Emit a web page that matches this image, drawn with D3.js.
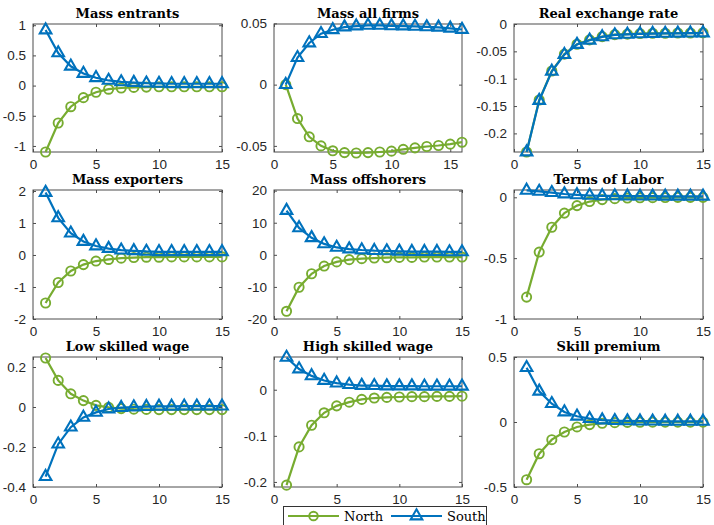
<!DOCTYPE html>
<html><head><meta charset="utf-8">
<script src="https://cdn.jsdelivr.net/npm/d3@7"></script>
<style>body{margin:0;background:#fff}svg{display:block}</style>
</head><body>
<svg id="c" width="714" height="525"></svg>
<script>
// ---- data ----
const titles = ["Mass entrants","Mass all firms","Real exchange rate","Mass exporters","Mass offshorers","Terms of Labor","Low skilled wage","High skilled wage","Skill premium"];
const seriesNames = ["North","South"];
const xTicks = [0,5,10,15];
const xMax = [15,16,15,15,15,15,15,15,15];

const entrantsNorth = [-1.1,-0.62,-0.35,-0.2,-0.11,-0.06,-0.04,-0.03,-0.025,-0.02,-0.02,-0.02,-0.02,-0.02,-0.02];
const entrantsSouth = [0.92,0.54,0.32,0.2,0.13,0.085,0.06,0.05,0.04,0.035,0.03,0.03,0.03,0.03,0.03];
const allFirmsNorth = [0,-0.0277,-0.0426,-0.050,-0.054,-0.0555,-0.0558,-0.0555,-0.055,-0.0543,-0.0528,-0.0516,-0.0505,-0.0497,-0.0486,-0.047];
const allFirmsSouth = [0,0.022,0.034,0.0416,0.0448,0.047,0.0478,0.0484,0.0484,0.048,0.0478,0.0475,0.0471,0.0468,0.046,0.045];
const rerNorth = [-0.234,-0.139,-0.086,-0.055,-0.037,-0.029,-0.023,-0.0195,-0.0185,-0.0175,-0.017,-0.017,-0.0165,-0.0165,-0.016];
const rerSouth = [-0.234,-0.14,-0.0866,-0.056,-0.0376,-0.0297,-0.0235,-0.02,-0.019,-0.018,-0.0175,-0.0172,-0.017,-0.0167,-0.0165];
const exportersNorth = [-1.5,-0.86,-0.5,-0.3,-0.19,-0.14,-0.1,-0.08,-0.07,-0.07,-0.06,-0.06,-0.06,-0.06,-0.06];
const exportersSouth = [1.95,1.16,0.68,0.42,0.28,0.2,0.15,0.13,0.11,0.1,0.1,0.1,0.1,0.1,0.1];
const offshorersNorth = [-17.6,-10.1,-5.9,-3.5,-2.2,-1.5,-1.2,-1.0,-0.9,-0.8,-0.8,-0.7,-0.7,-0.7,-0.7];
const offshorersSouth = [13.8,8.4,5.3,3.4,2.3,1.8,1.5,1.3,1.2,1.1,1.0,1.0,1.0,0.9,0.9];
const laborNorth = [-0.82,-0.45,-0.246,-0.13,-0.068,-0.035,-0.019,-0.011,-0.006,-0.004,-0.003,-0.002,-0.001,-0.001,-0.001];
const laborSouth = [0.057,0.048,0.038,0.027,0.02,0.015,0.012,0.011,0.01,0.009,0.009,0.008,0.008,0.008,0.008];
const lowWageNorth = [0.245,0.133,0.066,0.032,0.008,-0.002,-0.008,-0.011,-0.012,-0.013,-0.013,-0.013,-0.013,-0.013,-0.013];
const lowWageSouth = [-0.348,-0.186,-0.101,-0.052,-0.027,-0.01,-0.003,0,0.002,0.003,0.003,0.004,0.004,0.004,0.004];
const highWageNorth = [-0.207,-0.124,-0.077,-0.05,-0.035,-0.027,-0.021,-0.018,-0.0166,-0.0158,-0.015,-0.015,-0.0145,-0.0145,-0.014];
const highWageSouth = [0.07,0.045,0.03,0.02,0.0144,0.011,0.009,0.0087,0.008,0.008,0.008,0.0075,0.0075,0.0075,0.0075];
const premiumNorth = [-0.444,-0.244,-0.136,-0.077,-0.038,-0.02,-0.01,-0.005,-0.003,-0.002,-0.001,-0.001,-0.001,-0.001,-0.001];
const premiumSouth = [0.418,0.236,0.141,0.077,0.044,0.026,0.015,0.01,0.008,0.007,0.006,0.005,0.005,0.005,0.005];

const northData = [entrantsNorth,allFirmsNorth,rerNorth,exportersNorth,offshorersNorth,laborNorth,lowWageNorth,highWageNorth,premiumNorth];
const southData = [entrantsSouth,allFirmsSouth,rerSouth,exportersSouth,offshorersSouth,laborSouth,lowWageSouth,highWageSouth,premiumSouth];

const yTicks = [
  [-1,-0.5,0,0.5,1],[-0.05,0,0.05],[-0.2,-0.15,-0.1,-0.05,0],
  [-2,-1,0,1,2],[-20,-10,0,10,20],[-1,-0.5,0],
  [-0.4,-0.2,0,0.2],[-0.2,-0.1,0],[-0.5,0,0.5]
];
const yTickLabels = [
  ["-1","-0.5","0","0.5","1"],["-0.05","0","0.05"],["-0.2","-0.15","-0.1","-0.05","0"],
  ["-2","-1","0","1","2"],["-20","-10","0","10","20"],["-1","-0.5","0"],
  ["-0.4","-0.2","0","0.2"],["-0.2","-0.1","0"],["-0.5","0","0.5"]
];
const yDomains = [
  [-1.1,1.02],[-0.055,0.0495],[-0.234,0.0],
  [-2,2.03],[-20,20.2],[-1,0.06],
  [-0.4,0.25],[-0.211,0.071],[-0.5,0.5]
];

// ---- layout ----
const cols = [{l:33,r:222},{l:274,r:462},{l:514,r:703}];
const rows = [{t:24,b:152},{t:190,b:319},{t:357,b:487}];
const cNorth = "#77AC30", cSouth = "#0072BD";
const axisCol = "#4d4d4d", textCol = "#262626";

const svg = d3.select("#c");

titles.forEach((title,i)=>{
  const col = cols[i%3], row = rows[Math.floor(i/3)];
  const x = d3.scaleLinear().domain([0,xMax[i]]).range([col.l,col.r]);
  const y = d3.scaleLinear().domain(yDomains[i]).range([row.b,row.t]);
  const g = svg.append("g");

  g.append("rect").attr("x",col.l).attr("y",row.t).attr("width",col.r-col.l).attr("height",row.b-row.t)
    .attr("fill","none").attr("stroke",axisCol).attr("stroke-width",1);

  const yAx = d3.axisLeft(y).tickValues(yTicks[i]).tickSizeInner(-3).tickSizeOuter(0)
    .tickFormat((d,k)=>yTickLabels[i][k]).tickPadding(7);
  const ya = g.append("g").attr("transform",`translate(${col.l},0)`).call(yAx);
  const yAxR = d3.axisRight(y).tickValues(yTicks[i]).tickSizeInner(-3).tickSizeOuter(0).tickFormat("");
  const yr = g.append("g").attr("transform",`translate(${col.r},0)`).call(yAxR);
  const xAx = d3.axisBottom(x).tickValues(xTicks).tickSizeInner(-3).tickSizeOuter(0).tickPadding(7);
  const xa = g.append("g").attr("transform",`translate(0,${row.b})`).call(xAx);
  const xAxT = d3.axisTop(x).tickValues(xTicks).tickSizeInner(-3).tickSizeOuter(0).tickFormat("");
  const xt = g.append("g").attr("transform",`translate(0,${row.t})`).call(xAxT);
  [ya,yr,xa,xt].forEach(a=>{
    a.select(".domain").remove();
    a.selectAll("line").attr("stroke",axisCol);
    a.selectAll("text").attr("fill",textCol).style("font-family","'Liberation Sans',Arial,sans-serif").style("font-size","13.5px");
  });

  g.append("text").attr("x",(col.l+col.r)/2).attr("y",row.t-6).attr("text-anchor","middle")
    .style("font-family","'DejaVu Serif',serif").style("font-weight","bold").style("font-size","13px")
    .attr("fill","#000").text(title);

  const line = d3.line().x((d,k)=>x(k+1)).y(d=>y(d));
  g.append("path").datum(northData[i]).attr("d",line).attr("fill","none").attr("stroke",cNorth).attr("stroke-width",2.2);
  g.selectAll(".cn").data(northData[i]).enter().append("circle")
    .attr("cx",(d,k)=>x(k+1)).attr("cy",d=>y(d)).attr("r",4.6)
    .attr("fill","none").attr("stroke",cNorth).attr("stroke-width",1.9);
  g.append("path").datum(southData[i]).attr("d",line).attr("fill","none").attr("stroke",cSouth).attr("stroke-width",2.2);
  const tri = d3.symbol().type(d3.symbolTriangle).size(58);
  g.selectAll(".ts").data(southData[i]).enter().append("path")
    .attr("d",tri).attr("transform",(d,k)=>`translate(${x(k+1)},${y(d)})`)
    .attr("fill","none").attr("stroke",cSouth).attr("stroke-width",2.1);
});

// ---- legend ----
const lg = svg.append("g");
lg.append("rect").attr("x",283.5).attr("y",506.5).attr("width",203).attr("height",30)
  .attr("fill","#fff").attr("stroke","#333").attr("stroke-width",1);
const legendItems = [
  {name:seriesNames[0],color:cNorth,x0:288,shape:"circle"},
  {name:seriesNames[1],color:cSouth,x0:391,shape:"tri"}
];
legendItems.forEach(it=>{
  const ly = 516;
  lg.append("line").attr("x1",it.x0).attr("x2",it.x0+51).attr("y1",ly).attr("y2",ly)
    .attr("stroke",it.color).attr("stroke-width",2.2);
  if(it.shape==="circle"){
    lg.append("circle").attr("cx",it.x0+25.5).attr("cy",ly).attr("r",4.3).attr("fill","none").attr("stroke",it.color).attr("stroke-width",1.9);
  } else {
    lg.append("path").attr("d",d3.symbol().type(d3.symbolTriangle).size(58)).attr("transform",`translate(${it.x0+25.5},${ly})`)
      .attr("fill","none").attr("stroke",it.color).attr("stroke-width",2.1);
  }
  lg.append("text").attr("x",it.x0+56).attr("y",ly+5).attr("fill","#000")
    .style("font-family","'DejaVu Serif',serif").style("font-size","13px").text(it.name);
});
</script>
</body></html>
